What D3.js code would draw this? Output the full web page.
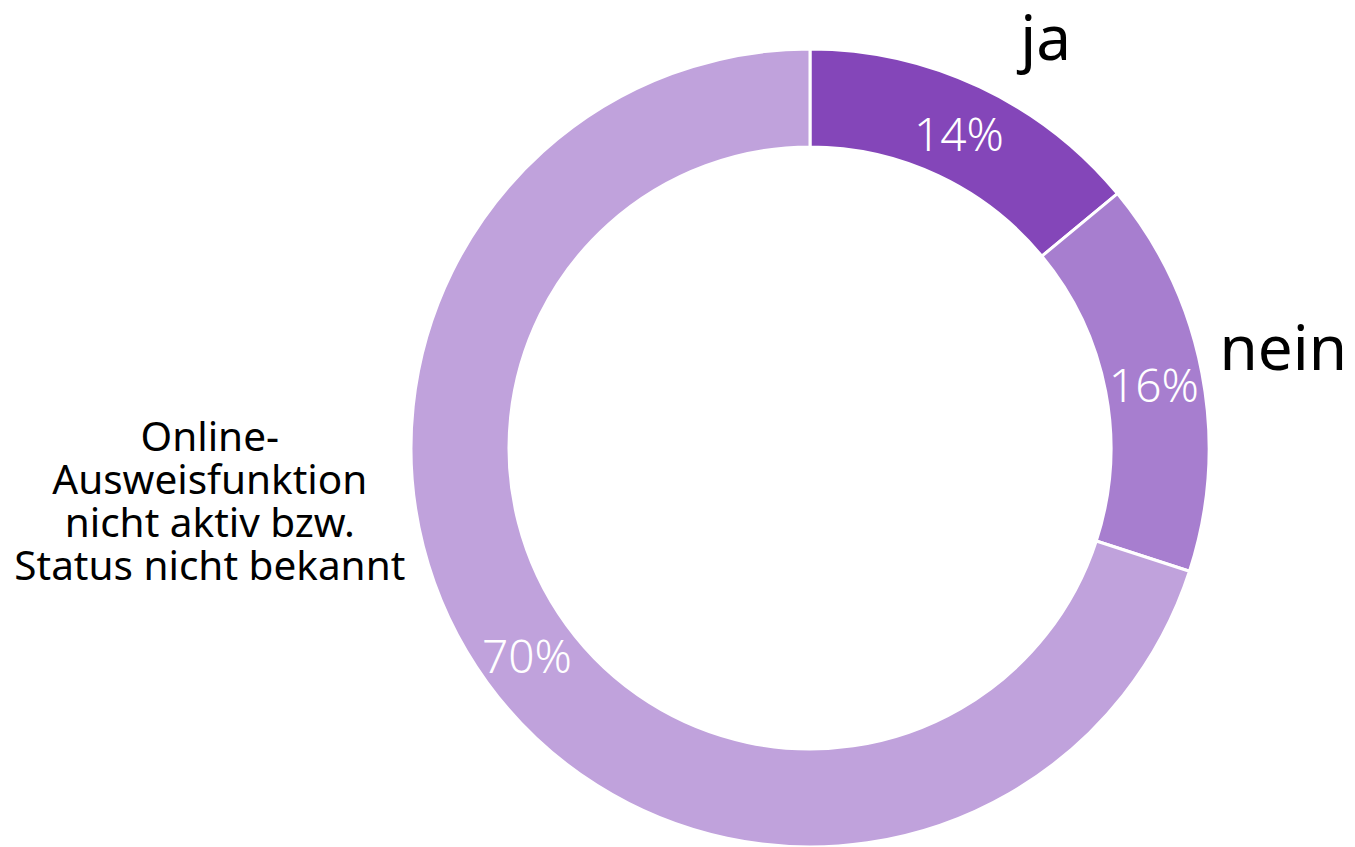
<!DOCTYPE html>
<html>
<head>
<meta charset="utf-8">
<script src="https://cdn.jsdelivr.net/npm/d3@7"></script>
<style>
  body { margin: 0; background: #fff; }
  text { font-family: "Noto Sans", "Open Sans", sans-serif; }
</style>
</head>
<body>
<svg class="chart"></svg>
<script>
  // data
  var categories = ["ja", "nein", "Online-Ausweisfunktion nicht aktiv bzw. Status nicht bekannt"];
  var values = [14, 16, 70];
  var labelLines = [["ja"], ["nein"], ["Online-", "Ausweisfunktion", "nicht aktiv bzw.", "Status nicht bekannt"]];

  var colors = ["#8446b9", "#a77ecf", "#c0a2dc"];

  var svgWidth = 1355, svgHeight = 847,
      cx = 810, cy = 448,
      outerR = 399, innerR = 301;

  // where each category label sits (polar, degrees clockwise from top)
  var labelLayout = [
    {angle: 26.8, r: 462, anchor: "start", size: 62},
    {angle: 76, r: 422, anchor: "start", size: 62},
    {angle: 262.7, r: 408, anchor: "end", size: 40.5}
  ];

  var svg = d3.select(".chart")
      .attr("width", svgWidth)
      .attr("height", svgHeight);

  var g = svg.append("g").attr("transform", "translate(" + cx + "," + cy + ")");

  var pie = d3.pie().sort(null).value(d => d.value);
  var arc = d3.arc().innerRadius(innerR).outerRadius(outerR);
  var midArc = d3.arc().innerRadius((innerR + outerR) / 2).outerRadius((innerR + outerR) / 2);

  var data = categories.map((c, i) => ({name: c, value: values[i], lines: labelLines[i]}));
  var arcs = pie(data);

  g.selectAll("path.slice")
    .data(arcs).enter().append("path")
      .attr("class", "slice")
      .attr("d", arc)
      .attr("fill", (d, i) => colors[i])
      .attr("stroke", "#fff")
      .attr("stroke-width", 3)
      .attr("stroke-linejoin", "round");

  g.selectAll("text.pct")
    .data(arcs).enter().append("text")
      .attr("class", "pct")
      .attr("transform", d => "translate(" + midArc.centroid(d) + ")")
      .attr("text-anchor", "middle")
      .attr("dy", "0.42em")
      .attr("fill", "#fff")
      .attr("font-size", 46)
      .attr("font-weight", 300)
      .text(d => d.data.value + "%");

  arcs.forEach(function (d, i) {
    var L = labelLayout[i];
    var a = L.angle * Math.PI / 180;
    var x = L.r * Math.sin(a), y = -L.r * Math.cos(a);
    var lh = 43;
    var t = g.append("text")
      .attr("class", "cat")
      .attr("font-size", L.size)
      .attr("fill", "#000")
      .attr("text-anchor", "middle");
    d.data.lines.forEach(function (line, j) {
      t.append("tspan").attr("x", 0).attr("dy", j === 0 ? 0 : lh).text(line);
    });
    var bb = t.node().getBBox();
    var tx = L.anchor === "start" ? x + bb.width / 2 : x - bb.width / 2;
    var ty = y - (bb.y + bb.height / 2);
    t.attr("transform", "translate(" + tx + "," + ty + ")");
  });
</script>
</body>
</html>
